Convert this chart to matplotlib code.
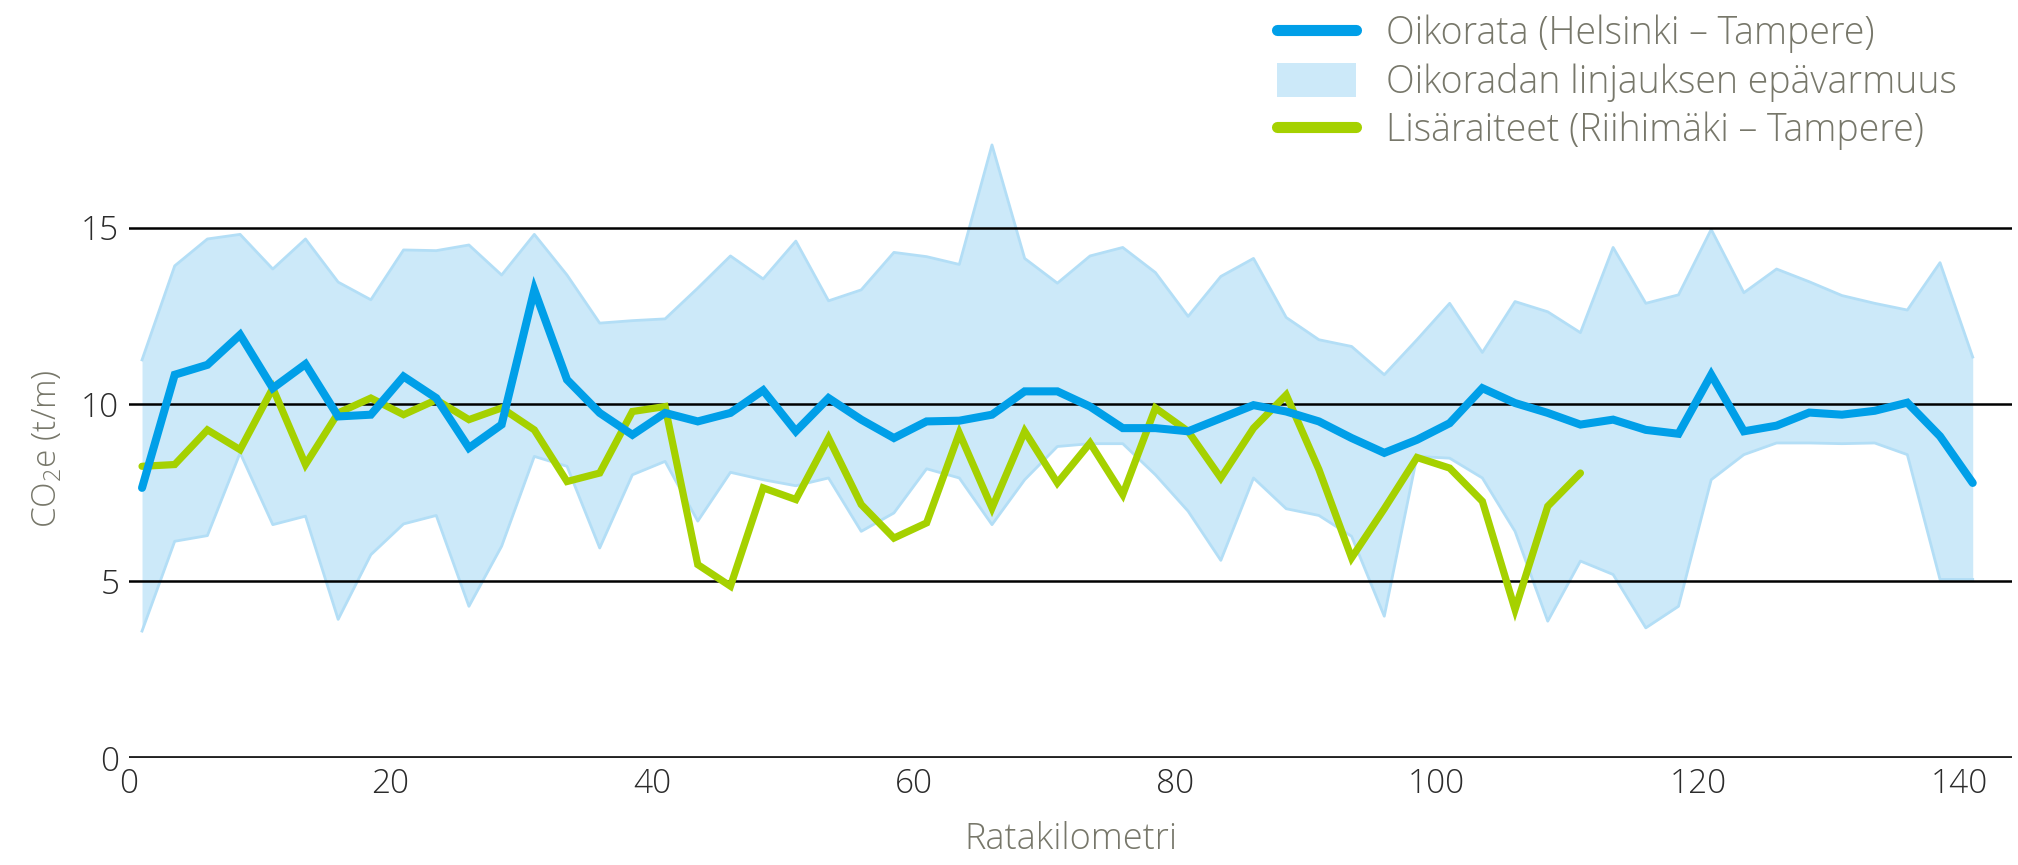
import numpy as np
import matplotlib.pyplot as plt
from matplotlib.patches import Patch
from matplotlib.lines import Line2D

plt.rcParams['font.family'] = ['Open Sans', 'DejaVu Sans']

# ratakilometrit, 2.5 km valein
km_oikorata = np.arange(57) * 2.5 + 1
km_lisaraiteet = np.arange(45) * 2.5 + 1

oikorata = [7.64, 10.84, 11.12, 11.97, 10.46, 11.14, 9.66, 9.71, 10.79, 10.18,
            8.77, 9.43, 13.24, 10.70, 9.76, 9.14, 9.76, 9.52, 9.76, 10.40,
            9.24, 10.18, 9.57, 9.05, 9.52, 9.54, 9.71, 10.37, 10.37, 9.94,
            9.33, 9.33, 9.24, 9.61, 9.98, 9.80, 9.52, 9.05, 8.63, 9.00,
            9.47, 10.46, 10.04, 9.76, 9.43, 9.57, 9.28, 9.17, 10.84, 9.24,
            9.40, 9.77, 9.71, 9.82, 10.05, 9.10, 7.78]

ylaraja = [11.26, 13.92, 14.68, 14.81, 13.83, 14.68, 13.46, 12.96, 14.37, 14.35,
           14.51, 13.66, 14.81, 13.66, 12.30, 12.37, 12.42, 13.29, 14.20, 13.55,
           14.62, 12.93, 13.24, 14.30, 14.18, 13.96, 17.34, 14.13, 13.43, 14.20,
           14.44, 13.73, 12.49, 13.62, 14.13, 12.46, 11.83, 11.64, 10.84, 11.83,
           12.86, 11.47, 12.91, 12.62, 12.03, 14.44, 12.86, 13.10, 14.95, 13.16,
           13.83, 13.47, 13.08, 12.86, 12.67, 14.01, 11.34]

alaraja = [3.59, 6.13, 6.29, 8.63, 6.60, 6.84, 3.92, 5.75, 6.62, 6.86,
           4.29, 5.99, 8.53, 8.25, 5.94, 8.01, 8.39, 6.70, 8.08, 7.87,
           7.70, 7.92, 6.41, 6.93, 8.18, 7.92, 6.60, 7.87, 8.81, 8.89,
           8.89, 8.01, 6.98, 5.59, 7.92, 7.05, 6.86, 6.27, 4.01, 8.53,
           8.48, 7.92, 6.41, 3.87, 5.57, 5.19, 3.68, 4.29, 7.87, 8.58,
           8.91, 8.91, 8.89, 8.91, 8.58, 5.05, 5.05]

lisaraiteet = [8.25, 8.30, 9.28, 8.72, 10.46, 8.30, 9.76, 10.18, 9.71, 10.13,
               9.57, 9.90, 9.28, 7.82, 8.06, 9.80, 9.94, 5.47, 4.86, 7.64,
               7.31, 9.05, 7.17, 6.22, 6.65, 9.19, 7.07, 9.24, 7.78, 8.91,
               7.45, 9.90, 9.24, 7.92, 9.33, 10.27, 8.16, 5.66, 7.05, 8.50,
               8.20, 7.26, 4.20, 7.12, 8.06]

sininen = '#009fe8'
vihrea = '#a5d100'
vaalea = '#cce9f9'
tekstivari = '#77776a'

fig = plt.figure(figsize=(20.18, 8.65), dpi=100)
ax = fig.add_axes([0.0639, 0.1237, 0.9331, 0.7153])

ax.fill_between(km_oikorata, alaraja, ylaraja, color=vaalea, lw=0, zorder=1)
ax.plot(km_oikorata, ylaraja, color='#b3def6', lw=2, zorder=1.5)
ax.plot(km_oikorata, alaraja, color='#b3def6', lw=2, zorder=1.5)

for y in [5, 10, 15]:
    ax.axhline(y, color='black', lw=1.8, zorder=2)
ax.axhline(0, color='#222222', lw=3.5, zorder=2)

ax.plot(km_oikorata, oikorata, color=sininen, lw=5.8, solid_capstyle='round',
        solid_joinstyle='miter', zorder=4)
ax.plot(km_lisaraiteet, lisaraiteet, color=vihrea, lw=5.2, solid_capstyle='round',
        solid_joinstyle='miter', zorder=3)

ax.set_xlim(0, 144)
ax.set_ylim(0, 17.5)
ax.set_xticks([0, 20, 40, 60, 80, 100, 120, 140])
ax.set_yticks([0, 5, 10, 15])
ax.tick_params(length=0, labelsize=24, colors='#2b2b2b', pad=7)
for lab in ax.get_xticklabels() + ax.get_yticklabels():
    lab.set_fontweight('light')
for s in ax.spines.values():
    s.set_visible(False)

ax.set_xlabel('Ratakilometri', fontsize=26, color=tekstivari, labelpad=14,
              fontweight='light')
ax.set_ylabel(r'CO$_\mathregular{2}$e (t/m)', fontsize=24, color=tekstivari,
              labelpad=12, fontweight='light')

kahvat = [Line2D([], [], color=sininen, lw=8, solid_capstyle='round'),
          Patch(facecolor=vaalea, edgecolor='none'),
          Line2D([], [], color=vihrea, lw=8, solid_capstyle='round')]
nimet = ['Oikorata (Helsinki – Tampere)',
         'Oikoradan linjauksen epävarmuus',
         'Lisäraiteet (Riihimäki – Tampere)']
fig.legend(kahvat, nimet, loc='upper left', bbox_to_anchor=(0.616, 1.022),
           frameon=False, prop={'size': 27, 'weight': 'light'},
           labelcolor=tekstivari, handlelength=2.1, handleheight=1.0,
           labelspacing=0.26, handletextpad=0.8)

fig.savefig('out.png', dpi=100)
